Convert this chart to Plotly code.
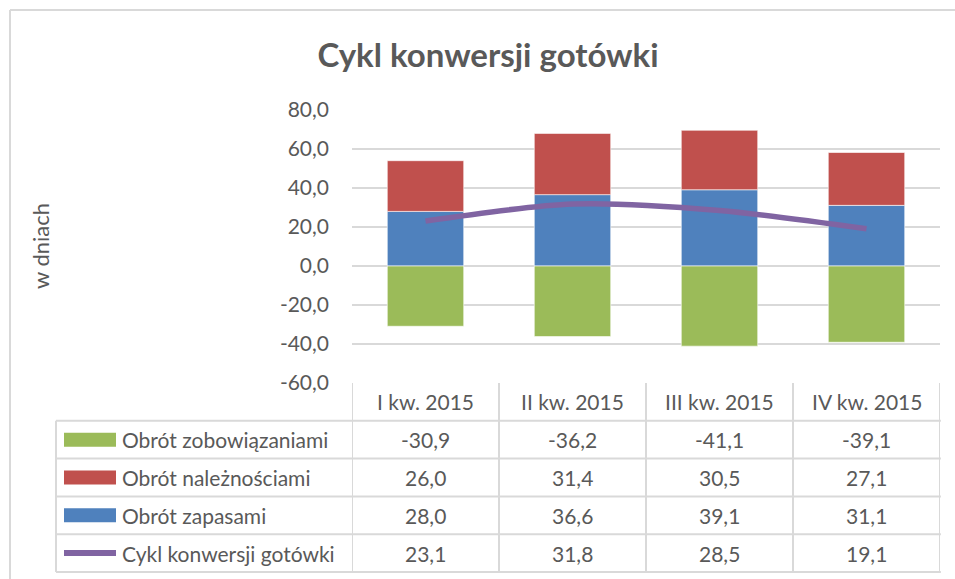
import plotly.graph_objects as go

categories = ["I kw. 2015", "II kw. 2015", "III kw. 2015", "IV kw. 2015"]
zobowiazania = [-30.9, -36.2, -41.1, -39.1]
naleznosci = [26.0, 31.4, 30.5, 27.1]
zapasy = [28.0, 36.6, 39.1, 31.1]
cykl = [23.1, 31.8, 28.5, 19.1]
y_ticks = [-60, -40, -20, 0, 20, 40, 60, 80]

series_names = ["Obrót zobowiązaniami", "Obrót należnościami", "Obrót zapasami", "Cykl konwersji gotówki"]
series_values = [zobowiazania, naleznosci, zapasy, cykl]
series_colors = ["#9BBB59", "#C0504D", "#4F81BD", "#8064A2"]

FONT = "Lato"
TXT = "#595959"
GRID = "#D9D9D9"
TS = 21

W, H = 955, 579
L, R, T, B = 352, 15, 110, 196
PH = H - T - B
PW = W - L - R


def fmt(v):
    return f"{v:.1f}".replace(".", ",")


def px_to_py(py):
    return (H - B - py) / PH


def px_to_px(px):
    return (px - L) / PW


fig = go.Figure()
fig.add_trace(go.Bar(x=categories, y=zapasy, name=series_names[2], marker_color=series_colors[2],
                     marker_line=dict(color="rgba(255,255,255,0.6)", width=1), width=0.52))
fig.add_trace(go.Bar(x=categories, y=naleznosci, name=series_names[1], marker_color=series_colors[1],
                     marker_line=dict(color="rgba(255,255,255,0.6)", width=1), width=0.52))
fig.add_trace(go.Bar(x=categories, y=zobowiazania, name=series_names[0], marker_color=series_colors[0],
                     marker_line=dict(color="rgba(255,255,255,0.6)", width=1), width=0.52))
fig.add_trace(go.Scatter(x=categories, y=cykl, name=series_names[3], mode="lines",
                         line=dict(color=series_colors[3], width=5.5, shape="spline", smoothing=0.8)))

shapes = []
annotations = []

# outer chart border
shapes.append(dict(type="line", xref="paper", yref="paper", x0=px_to_px(10), x1=px_to_px(W + 5),
                   y0=px_to_py(10), y1=px_to_py(10), line=dict(color=GRID, width=2)))
shapes.append(dict(type="line", xref="paper", yref="paper", x0=px_to_px(10), x1=px_to_px(10),
                   y0=px_to_py(10), y1=px_to_py(H + 5), line=dict(color=GRID, width=2)))

# data table
row_h = 37.8
top = H - B
rows_y = [top + k * row_h for k in range(6)]
x_left = px_to_px(56)
n = len(categories)
for k, yy in enumerate(rows_y):
    if k == 0:
        continue
    shapes.append(dict(type="line", xref="paper", yref="paper", x0=x_left, x1=1.0015,
                       y0=px_to_py(yy), y1=px_to_py(yy), line=dict(color=GRID, width=2)))
for i in range(n + 1):
    shapes.append(dict(type="line", xref="x", yref="paper", x0=i - 0.5, x1=i - 0.5,
                       y0=px_to_py(rows_y[0]), y1=px_to_py(rows_y[5]), line=dict(color=GRID, width=2)))
shapes.append(dict(type="line", xref="paper", yref="paper", x0=x_left, x1=x_left,
                   y0=px_to_py(rows_y[1]), y1=px_to_py(rows_y[5]), line=dict(color=GRID, width=2)))

for i, c in enumerate(categories):
    annotations.append(dict(x=i, xref="x", y=px_to_py((rows_y[0] + rows_y[1]) / 2), yref="paper",
                            text=c, showarrow=False, font=dict(family=FONT, size=TS, color=TXT),
                            xanchor="center", yanchor="middle"))

for r, (name, vals, col) in enumerate(zip(series_names, series_values, series_colors)):
    cy = (rows_y[r + 1] + rows_y[r + 2]) / 2
    if r < 3:
        shapes.append(dict(type="rect", xref="paper", yref="paper", x0=px_to_px(64), x1=px_to_px(116),
                           y0=px_to_py(cy - 7), y1=px_to_py(cy + 7), fillcolor=col, line=dict(width=0)))
    else:
        shapes.append(dict(type="line", xref="paper", yref="paper", x0=px_to_px(64), x1=px_to_px(116),
                           y0=px_to_py(cy), y1=px_to_py(cy), line=dict(color=col, width=6)))
    annotations.append(dict(x=px_to_px(120), xref="paper", y=px_to_py(cy), yref="paper", text=name,
                            showarrow=False, font=dict(family=FONT, size=TS, color=TXT),
                            xanchor="left", yanchor="middle"))
    for i, v in enumerate(vals):
        annotations.append(dict(x=i, xref="x", y=px_to_py(cy), yref="paper",
                                text=fmt(v), showarrow=False,
                                font=dict(family=FONT, size=TS, color=TXT),
                                xanchor="center", yanchor="middle"))

annotations.append(dict(x=px_to_px(40), xref="paper", y=px_to_py(246), yref="paper", text="w dniach",
                        textangle=-90, showarrow=False, font=dict(family=FONT, size=22, color=TXT),
                        xanchor="center", yanchor="middle"))

fig.update_layout(
    width=W, height=H,
    margin=dict(l=L, r=R, t=T, b=B),
    paper_bgcolor="white", plot_bgcolor="white",
    barmode="relative",
    showlegend=False,
    title=dict(text="<b>Cykl konwersji gotówki</b>", x=488 / W, xanchor="center", y=1 - 55 / H,
               yanchor="middle", font=dict(family=FONT, size=33, color=TXT)),
    font=dict(family=FONT, color=TXT),
    shapes=shapes,
    annotations=annotations,
    xaxis=dict(showticklabels=False, showgrid=False, zeroline=False, showline=False, ticks="",
               range=[-0.5, n - 0.5]),
    yaxis=dict(range=[-60, 80], tickvals=y_ticks, ticktext=[fmt(v) for v in y_ticks],
               showgrid=True, gridcolor=GRID, gridwidth=2, zeroline=True, zerolinecolor=GRID,
               zerolinewidth=2, showline=False, ticks="", ticklabelstandoff=22,
               tickfont=dict(family=FONT, size=21, color=TXT)),
)

fig.write_html("out.html", config={"displayModeBar": False},
               post_script="document.body.style.margin='0';")
